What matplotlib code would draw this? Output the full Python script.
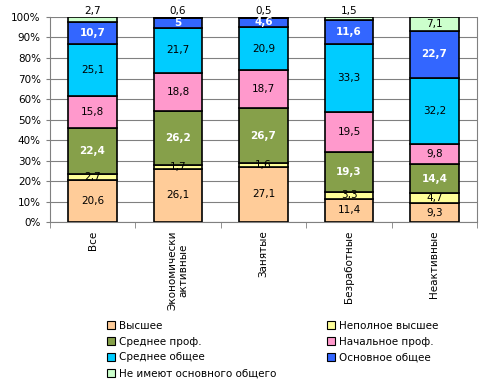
import numpy as np
import matplotlib
matplotlib.use('Agg')
import matplotlib.pyplot as plt
from matplotlib.patches import Patch

categories = ["Все", "Экономически\nактивные", "Занятые", "Безработные", "Неактивные"]
series_names = ["Высшее", "Неполное высшее", "Среднее проф.", "Начальное проф.",
                "Среднее общее", "Основное общее", "Не имеют основного общего"]
vysshee = [20.6, 26.1, 27.1, 11.4, 9.3]
nepolnoe = [2.7, 1.7, 1.6, 3.3, 4.7]
sred_prof = [22.4, 26.2, 26.7, 19.3, 14.4]
nach_prof = [15.8, 18.8, 18.7, 19.5, 9.8]
sred_obsh = [25.1, 21.7, 20.9, 33.3, 32.2]
osn_obsh = [10.7, 5.0, 4.6, 11.6, 22.7]
ne_imeyut = [2.7, 0.6, 0.5, 1.5, 7.1]

series = [vysshee, nepolnoe, sred_prof, nach_prof, sred_obsh, osn_obsh, ne_imeyut]
colors = ["#FFCC99", "#FFFF99", "#86A04A", "#FF99CC", "#00CCFF", "#3366FF", "#CCFFCC"]
white_text = [False, False, True, False, False, True, False]

plt.rcParams['font.family'] = ['DejaVu Sans']
fig = plt.figure(figsize=(4.93, 3.85), dpi=100)
ax = fig.add_axes([0.101, 0.423, 0.867, 0.533])

x = np.arange(len(categories))
bottom = np.zeros(len(categories))
for vals, col, wt in zip(series, colors, white_text):
    vals = np.array(vals)
    ax.bar(x, vals, 0.57, bottom=bottom, color=col, edgecolor='black', linewidth=1.2, zorder=3)
    for i, v in enumerate(vals):
        lbl = f"{v:g}".replace('.', ',')
        if col == colors[-1] and v < 3:
            ax.text(x[i], 100.3, lbl, ha='center', va='bottom', fontsize=7.5, zorder=4, clip_on=False)
        else:
            ax.text(x[i], bottom[i] + v / 2, lbl, ha='center', va='center', fontsize=7.5,
                    color='white' if wt else 'black', fontweight='bold' if wt else 'normal', zorder=4)
    bottom += vals

ax.set_xlim(-0.5, len(categories) - 0.5)
ax.set_ylim(0, 100)
ax.set_yticks(np.arange(0, 101, 10))
ax.set_yticklabels([f"{t}%" for t in range(0, 101, 10)], fontsize=7.5)
ax.set_xticks(x)
ax.set_xticklabels(categories, rotation=90, fontsize=7.5, va='top')
ax.tick_params(axis='x', length=0, pad=6)
ax.set_xticks(np.arange(-0.5, len(categories), 1), minor=True)
ax.tick_params(axis='x', which='minor', length=4, direction='out', color='#808080')
ax.tick_params(axis='y', length=3, color='#808080')
ax.grid(axis='y', color='#808080', linewidth=0.8, zorder=0)
ax.spines['top'].set_visible(False)
for s in ['left', 'bottom', 'right']:
    ax.spines[s].set_color('#808080')

handles = [Patch(facecolor=c, edgecolor='black', linewidth=0.8) for c in colors]
order = [0, 2, 4, 6, 1, 3, 5]
leg = fig.legend([handles[i] for i in order], [series_names[i] for i in order],
                 ncol=2, loc='upper left', bbox_to_anchor=(0.208, 0.177), frameon=False,
                 fontsize=7.5, handlelength=0.8, handleheight=0.8, handletextpad=0.4,
                 columnspacing=4.8, labelspacing=0.55, borderaxespad=0)

fig.savefig("out.png", dpi=100)
